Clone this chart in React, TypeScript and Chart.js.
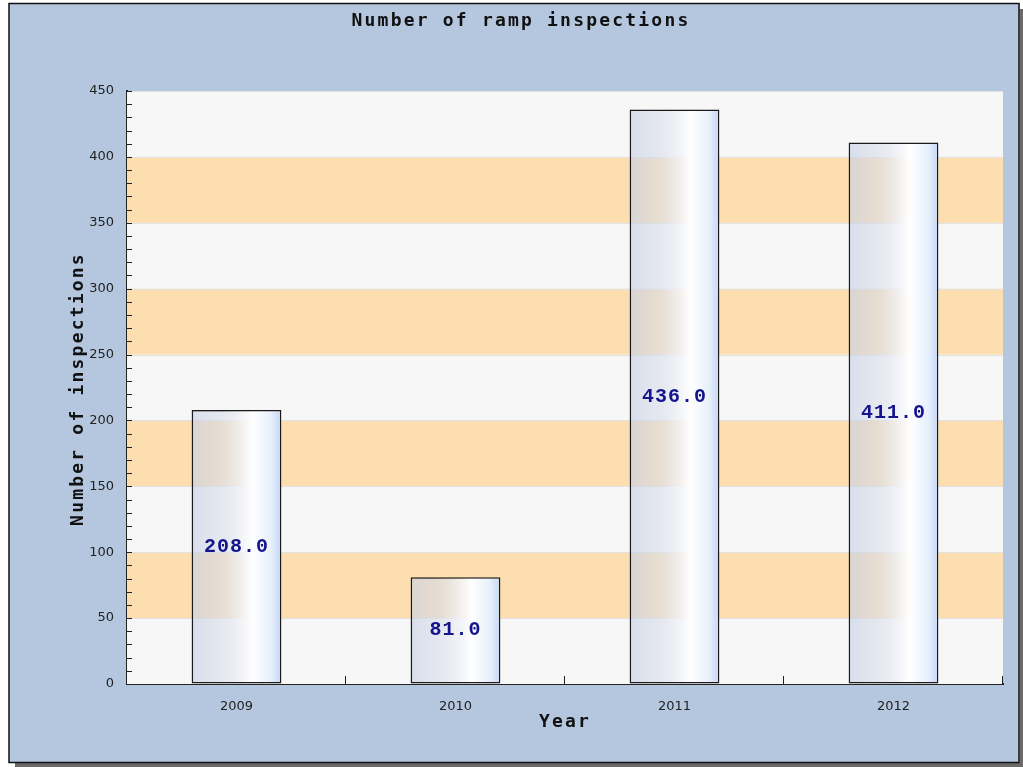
import React, { useEffect, useRef } from "react";
import { Chart, registerables } from "chart.js";

Chart.register(...registerables);

const categories = ["2009", "2010", "2011", "2012"];
const inspections = [208, 81, 436, 411];
const bands = [
  [50, 100],
  [150, 200],
  [250, 300],
  [350, 400],
];
const titleText = "Number of ramp inspections";
const yTitle = "Number of inspections";
const xTitle = "Year";

const MONO = "'DejaVu Sans Mono', monospace";

export default function App() {
  const ref = useRef<HTMLCanvasElement | null>(null);

  useEffect(() => {
    const canvas = ref.current;
    if (!canvas) return;

    const framePlugin = {
      id: "frame",
      beforeDraw(chart: any) {
        const c = chart.ctx;
        c.save();
        c.fillStyle = "#ffffff";
        c.fillRect(0, 0, 1023, 767);
        // shadow
        c.fillStyle = "#6a6a6a";
        c.fillRect(15, 763, 1008, 4);
        c.fillRect(1020, 9, 3, 758);
        // panel
        c.fillStyle = "#b5c7df";
        c.fillRect(9, 3, 1011, 760);
        c.strokeStyle = "#111";
        c.lineWidth = 1.5;
        c.strokeRect(9, 3.5, 1010, 759);
        // title
        c.fillStyle = "#111";
        c.font = `bold 18px ${MONO}`;
        (c as any).letterSpacing = "2.2px";
        c.textAlign = "center";
        c.textBaseline = "middle";
        c.fillText(titleText, 521, 21);
        // x title
        c.fillText(xTitle, 565, 722);
        // y title
        c.translate(78, 389);
        c.rotate(-Math.PI / 2);
        c.fillText(yTitle, 0, 0);
        c.restore();
      },
      beforeDatasetsDraw(chart: any) {
        const c = chart.ctx;
        const a = chart.chartArea;
        const y = chart.scales.y;
        c.save();
        c.fillStyle = "#f7f7f7";
        c.fillRect(a.left, a.top, a.right - a.left, a.bottom - a.top);
        c.fillStyle = "#fcdeb1";
        for (const [lo, hi] of bands) {
          const y1 = y.getPixelForValue(hi);
          const y2 = y.getPixelForValue(lo);
          c.fillRect(a.left, y1, a.right - a.left, y2 - y1);
        }
        c.strokeStyle = "#e2e2e2";
        c.lineWidth = 1;
        for (let v = 50; v <= 450; v += 50) {
          const py = Math.round(y.getPixelForValue(v)) + 0.5;
          c.beginPath();
          c.moveTo(a.left, py);
          c.lineTo(a.right, py);
          c.stroke();
        }
        c.restore();
      },
      afterDatasetsDraw(chart: any) {
        const c = chart.ctx;
        const meta = chart.getDatasetMeta(0);
        c.save();
        c.fillStyle = "#14148c";
        c.font = `bold 20px 'Liberation Mono', monospace`;
        (c as any).letterSpacing = "1px";
        c.textAlign = "center";
        c.textBaseline = "middle";
        meta.data.forEach((bar: any, i: number) => {
          const mid = (bar.y + bar.base) / 2;
          c.fillText(inspections[i].toFixed(1), bar.x, mid);
        });
        c.restore();
      },
      afterDraw(chart: any) {
        const c = chart.ctx;
        const a = chart.chartArea;
        const y = chart.scales.y;
        const x = chart.scales.x;
        c.save();
        c.strokeStyle = "#222";
        c.lineWidth = 1;
        for (let v = 0; v <= 450; v += 10) {
          const py = Math.round(y.getPixelForValue(v)) + 0.5;
          c.beginPath();
          c.moveTo(a.left, py);
          c.lineTo(a.left + 5, py);
          c.stroke();
        }
        for (let i = 1; i <= categories.length; i++) {
          const px = Math.round(x.getPixelForValue(i - 0.5)) - 0.5;
          c.beginPath();
          c.moveTo(px, a.bottom);
          c.lineTo(px, a.bottom - 8);
          c.stroke();
        }
        c.restore();
      },
    };

    const chart = new Chart(canvas, {
      type: "bar",
      data: {
        labels: categories,
        datasets: [
          {
            label: yTitle,
            data: inspections,
            barPercentage: 0.41,
            categoryPercentage: 1,
            borderColor: "#1a1a1a",
            borderWidth: 1.5,
            borderSkipped: false,
            backgroundColor: (ctx: any) => {
              const ch = ctx.chart;
              if (!ch.chartArea) return "rgba(220,228,240,0.7)";
              const xs = ch.scales.x;
              const cx = xs.getPixelForValue(ctx.dataIndex);
              const w = (xs.width / categories.length) * 0.41;
              const g = ch.ctx.createLinearGradient(cx - w / 2, 0, cx + w / 2, 0);
              g.addColorStop(0, "rgba(198,208,230,0.65)");
              g.addColorStop(0.3, "rgba(212,218,232,0.55)");
              g.addColorStop(0.68, "rgba(255,255,255,1)");
              g.addColorStop(0.88, "rgba(232,240,252,1)");
              g.addColorStop(1, "rgba(196,215,245,1)");
              return g;
            },
          },
        ],
      },
      options: {
        responsive: false,
        animation: false,
        devicePixelRatio: 1,
        layout: { padding: { top: 91, right: 20, left: 0, bottom: 0 } },
        plugins: {
          legend: { display: false },
          title: { display: false },
          tooltip: { enabled: false },
        },
        scales: {
          x: {
            grid: { display: true, drawOnChartArea: false, drawTicks: false },
            border: { display: true, color: "#222", width: 2 },
            ticks: {
              color: "#222",
              font: { family: "'DejaVu Sans', sans-serif", size: 13 },
              padding: 15,
            },
            afterFit: (s: any) => {
              s.height = 83;
            },
          },
          y: {
            min: 0,
            max: 450,
            grid: { display: true, drawOnChartArea: false, drawTicks: false },
            border: { display: true, color: "#222", width: 2 },
            ticks: {
              stepSize: 50,
              color: "#222",
              font: { family: "'DejaVu Sans', sans-serif", size: 13 },
              padding: 13,
            },
            afterFit: (s: any) => {
              s.width = 127;
            },
          },
        },
      },
      plugins: [framePlugin],
    });

    return () => chart.destroy();
  }, []);

  return (
    <div style={{ position: "absolute", left: 0, top: 0, width: 1023, height: 767 }}>
      <canvas ref={ref} width={1023} height={767} style={{ display: "block" }} />
    </div>
  );
}
